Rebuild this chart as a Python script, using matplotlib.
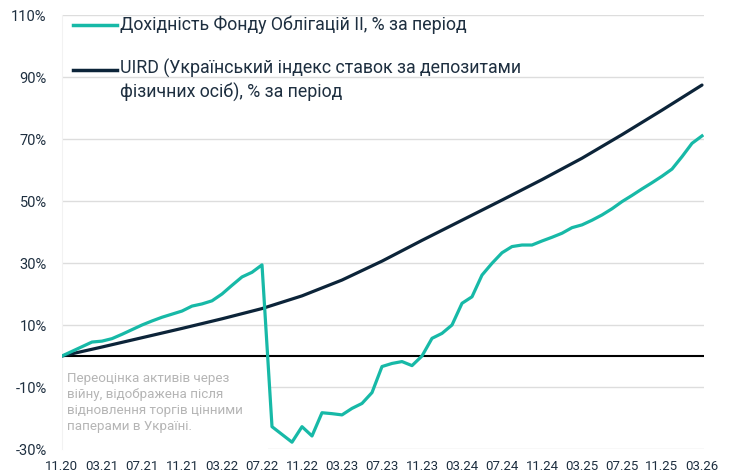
import matplotlib
matplotlib.use("Agg")
import matplotlib.pyplot as plt
from matplotlib.lines import Line2D
from matplotlib.patches import Rectangle
import numpy as np

# month labels shown on the x axis (every 4 months, Nov 2020 .. Mar 2026)
tick_labels = ["11.20", "03.21", "07.21", "11.21", "03.22", "07.22", "11.22", "03.23",
               "07.23", "11.23", "03.24", "07.24", "11.24", "03.25", "07.25", "11.25", "03.26"]

# fund return, % for the period, monthly from 11.20
fund_return = [0.0, 1.5, 3.0, 4.5, 4.8, 5.6, 7.0, 8.5, 10.0, 11.3,
               12.5, 13.5, 14.5, 16.1, 16.8, 17.8, 20.0, 22.8, 25.5, 27.0,
               29.4, -22.8, -25.3, -27.8, -22.8, -25.8, -18.3, -18.6, -19.0, -16.9,
               -15.3, -11.8, -3.4, -2.4, -1.8, -3.1, 0.0, 5.7, 7.3, 10.0,
               17.0, 19.1, 26.1, 29.9, 33.3, 35.3, 35.8, 35.8, 37.1, 38.3,
               39.6, 41.4, 42.3, 43.8, 45.5, 47.5, 49.8, 51.8, 53.9, 55.9,
               58.0, 60.3, 64.3, 68.6, 71.0]

# UIRD cumulative, % for the period, read at each x tick (every 4 months)
uird = [0.0, 2.9, 5.9, 8.9, 12.0, 15.3, 19.4, 24.5, 30.6,
        37.3, 43.8, 50.3, 56.9, 63.8, 71.4, 79.3, 87.4]

fund_label = "Дохідність Фонду Облігацій ІІ, % за період"
uird_label = "UIRD (Український індекс ставок за депозитами\nфізичних осіб), % за період"
note = ("Переоцінка активів через\nвійну, відображена після\n"
        "відновлення торгів цінними\nпаперами в Україні.")

teal = "#17B9A7"
navy = "#0C2439"
text_col = "#1E2F40"

plt.rcParams['font.family'] = ['Roboto', 'DejaVu Sans']

fig = plt.figure(figsize=(7.32, 4.73), dpi=100)
ax = fig.add_axes([62 / 732, 1 - 449 / 473, 642 / 732, 434 / 473])

fund_x = np.arange(len(fund_return))
uird_x = np.arange(len(uird)) * 4

ax.axhline(0, color="black", lw=1.5, zorder=2)
ax.plot(uird_x, uird, color=navy, lw=2.3, zorder=3, solid_capstyle="round")
ax.plot(fund_x, fund_return, color=teal, lw=2.3, zorder=4, solid_joinstyle="round")

ax.set_xlim(0, 64.2)
ax.set_ylim(-30, 110)
ax.set_yticks(np.arange(-30, 111, 20))
ax.set_yticklabels([f"{v}%" for v in range(-30, 111, 20)])
ax.set_xticks(uird_x)
ax.set_xticklabels(tick_labels)
ax.grid(axis="y", color="#dddddd", lw=1)
ax.set_axisbelow(True)
for s in ["top", "right", "bottom"]:
    ax.spines[s].set_visible(False)
ax.spines["left"].set_color("#f2f2f2")
ax.tick_params(axis="both", length=0, colors=text_col)
ax.tick_params(axis="y", labelsize=10.5, pad=11)
ax.tick_params(axis="x", labelsize=9.5, pad=8)

# white panel behind the note hides the grid in the lower left corner
ax.add_patch(Rectangle((0.001, -0.01), 205 / 642, 0.195, transform=ax.transAxes,
                       facecolor="white", edgecolor="none", zorder=1, clip_on=False))
ax.text(5 / 642, 0.177, note, transform=ax.transAxes,
        fontsize=9.6, color="#b5b5b5", va="top", ha="left", linespacing=1.3, zorder=1.5)

# legend drawn by hand
W, H = 732, 473
fig.add_artist(Line2D([73 / W, 117 / W], [1 - 25 / H, 1 - 25 / H], color=teal, lw=2.5))
fig.add_artist(Line2D([73 / W, 117 / W], [1 - 70 / H, 1 - 70 / H], color=navy, lw=2.5))
fig.text(120 / W, 1 - 25 / H, fund_label, fontsize=12.8, color=text_col, va="center")
fig.text(120 / W, 1 - 59 / H, uird_label, fontsize=12.8, color=text_col, va="top",
         linespacing=1.3)

fig.savefig("out.png", dpi=100)
